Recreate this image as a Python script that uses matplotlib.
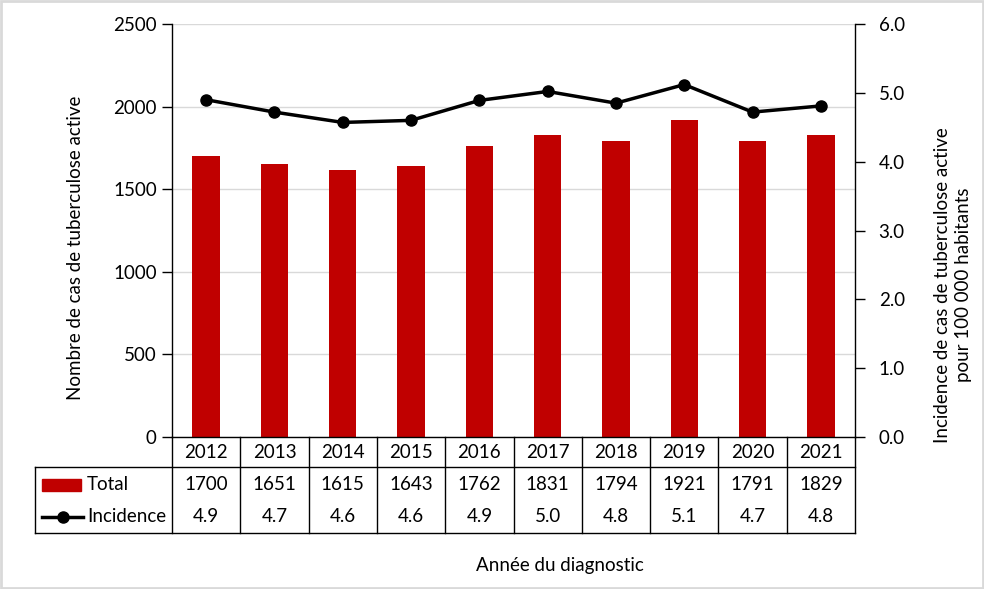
import matplotlib
matplotlib.use("Agg")
import matplotlib.pyplot as plt
import numpy as np
from matplotlib.transforms import blended_transform_factory
from matplotlib.patches import Rectangle
from matplotlib.lines import Line2D

years = ["2012", "2013", "2014", "2015", "2016", "2017", "2018", "2019", "2020", "2021"]
total = [1700, 1651, 1615, 1643, 1762, 1831, 1794, 1921, 1791, 1829]
incidence = [4.90, 4.72, 4.57, 4.60, 4.89, 5.02, 4.85, 5.12, 4.72, 4.81]
incidence_labels = ["4.9", "4.7", "4.6", "4.6", "4.9", "5.0", "4.8", "5.1", "4.7", "4.8"]

plt.rcParams['font.family'] = ['Lato', 'DejaVu Sans']
FS = 13.5
RED = "#C00000"

W, H = 984, 589
fig = plt.figure(figsize=(W / 100, H / 100), dpi=100)

def fx(px):
    return px / W

def fy(py):
    return 1 - py / H

L, R, T, B = 172, 855, 24, 437
ax = fig.add_axes([fx(L), fy(B), fx(R) - fx(L), fy(T) - fy(B)])
x = np.arange(len(years))
ax.bar(x, total, width=0.40, color=RED, zorder=2)
ax.set_xlim(-0.5, len(years) - 0.5)
ax.set_ylim(0, 2500)
ax.set_yticks(np.arange(0, 2501, 500))
ax.yaxis.grid(True, color="#d9d9d9", lw=1, zorder=0)
ax.set_axisbelow(True)
ax.set_xticks([])
ax.tick_params(axis='y', direction='out', length=7, width=1, labelsize=FS, pad=4, colors='black')
for s in ['top', 'right']:
    ax.spines[s].set_visible(False)
ax.spines['left'].set_linewidth(1)
ax.spines['bottom'].set_linewidth(1)

ax2 = ax.twinx()
ax2.plot(x, incidence, color="black", lw=2.5, marker='o', markersize=8, zorder=3)
ax2.set_ylim(0, 6)
ax2.set_yticks(np.arange(0, 6.01, 1.0))
ax2.set_yticklabels([f"{v:.1f}" for v in np.arange(0, 6.01, 1.0)])
ax2.tick_params(axis='y', direction='out', length=7, width=1, labelsize=FS, pad=10, colors='black')
for s in ['top', 'left', 'bottom']:
    ax2.spines[s].set_visible(False)
ax2.spines['right'].set_linewidth(1)

fig.text(fx(76), fy(248), "Nombre de cas de tuberculose active", fontsize=FS,
         rotation=90, ha='center', va='center')
fig.text(fx(953), fy(285), "Incidence de cas de tuberculose active\npour 100 000 habitants",
         fontsize=FS, rotation=90, ha='center', va='center', multialignment='center',
         linespacing=1.25)

# data table
tr = blended_transform_factory(ax.transData, fig.transFigure)
y_top, y_hdr, y_bot = fy(437), fy(467), fy(533)
lw = 1
edges = np.arange(len(years) + 1) - 0.5
for e in edges:
    fig.add_artist(Line2D([e, e], [y_top, y_bot], transform=tr, color='black', lw=lw))
fig.add_artist(Line2D([fx(35), fx(35)], [y_hdr, y_bot], transform=fig.transFigure, color='black', lw=lw))
fig.add_artist(Line2D([fx(35), fx(R)], [y_hdr, y_hdr], transform=fig.transFigure, color='black', lw=lw))
fig.add_artist(Line2D([fx(35), fx(R)], [y_bot, y_bot], transform=fig.transFigure, color='black', lw=lw))

for i, yr in enumerate(years):
    fig.text(x[i], fy(452), yr, transform=tr, fontsize=FS, ha='center', va='center')
    fig.text(x[i], fy(484), str(total[i]), transform=tr, fontsize=FS, ha='center', va='center')
    fig.text(x[i], fy(517), incidence_labels[i], transform=tr, fontsize=FS, ha='center', va='center')

# legend keys
fig.add_artist(Rectangle((fx(42), fy(491)), fx(81) - fx(42), fy(479) - fy(491),
                         transform=fig.transFigure, color=RED))
fig.text(fx(87), fy(484), "Total", fontsize=FS, ha='left', va='center')
fig.add_artist(Line2D([fx(42), fx(83)], [fy(517), fy(517)], transform=fig.transFigure,
                      color='black', lw=2.5))
fig.add_artist(Line2D([fx(62.5)], [fy(517)], transform=fig.transFigure,
                      color='black', marker='o', markersize=8, lw=0))
fig.text(fx(87), fy(517), "Incidence", fontsize=FS, ha='left', va='center')

fig.text(fx(560), fy(565), "Année du diagnostic", fontsize=FS, ha='center', va='center')

# figure border
fig.add_artist(Rectangle((0.001, 0.001), 0.998, 0.998, transform=fig.transFigure,
                         fill=False, edgecolor="#d9d9d9", lw=2))

fig.savefig("out.png", dpi=100)
